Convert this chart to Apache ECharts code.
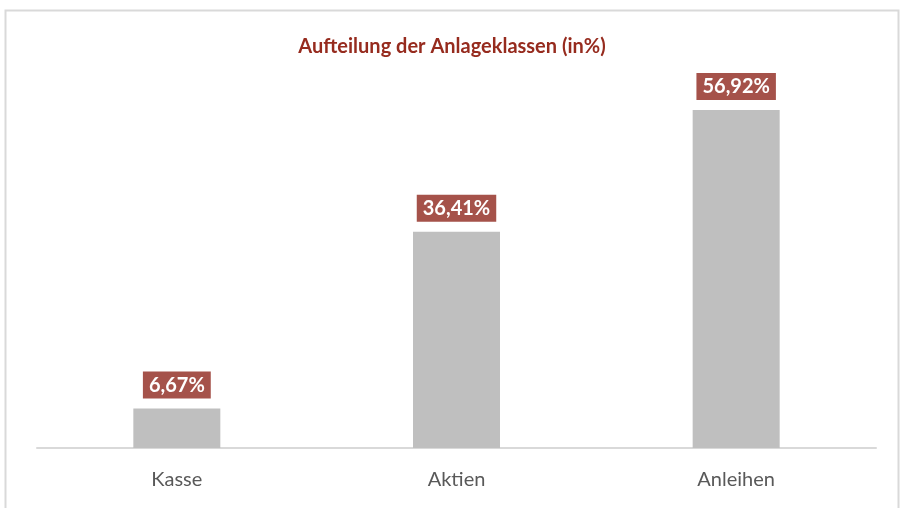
<!DOCTYPE html>
<html>
<head>
<meta charset="utf-8">
<script src="https://cdn.jsdelivr.net/npm/echarts@6/dist/echarts.min.js"></script>
<style>
  html, body { margin: 0; padding: 0; background: #fff; }
  #chart { width: 904px; height: 508px; }
</style>
</head>
<body>
<div id="chart"></div>
<script>
var categories = ['Kasse', 'Aktien', 'Anleihen'];
var shares = [6.67, 36.41, 56.92];

var chart = echarts.init(document.getElementById('chart'));
var option = {
    animation: false,
    backgroundColor: '#fff',
    title: {
        text: 'Aufteilung der Anlageklassen (in%)',
        left: 'center',
        top: 32,
        textStyle: {
            fontFamily: 'Lato',
            fontSize: 20,
            fontWeight: 'bold',
            color: '#962B1E'
        }
    },
    graphic: [{
        type: 'rect',
        shape: { x: 5.5, y: 10.5, width: 893, height: 510 },
        style: { fill: 'none', stroke: '#D9D9D9', lineWidth: 2 },
        silent: true
    }],
    grid: { left: 37, right: 28, top: 62, bottom: 60 },
    xAxis: {
        type: 'category',
        data: categories,
        axisTick: { show: false },
        axisLine: { lineStyle: { color: '#D9D9D9', width: 2 } },
        axisLabel: {
            margin: 22,
            fontFamily: 'Lato',
            fontSize: 20,
            color: '#595959'
        }
    },
    yAxis: {
        type: 'value',
        min: 0,
        max: 65,
        show: false
    },
    series: [{
        type: 'bar',
        data: shares,
        barWidth: 87,
        itemStyle: { color: '#BFBFBF' },
        label: {
            show: true,
            position: 'top',
            distance: 10,
            formatter: function (p) {
                return p.value.toFixed(2).replace('.', ',') + '%';
            },
            fontFamily: 'Lato',
            fontSize: 20,
            fontWeight: 'bold',
            color: '#fff',
            backgroundColor: '#A5524A',
            padding: [4, 6, 3, 6]
        }
    }]
};
chart.setOption(option);
</script>
</body>
</html>
